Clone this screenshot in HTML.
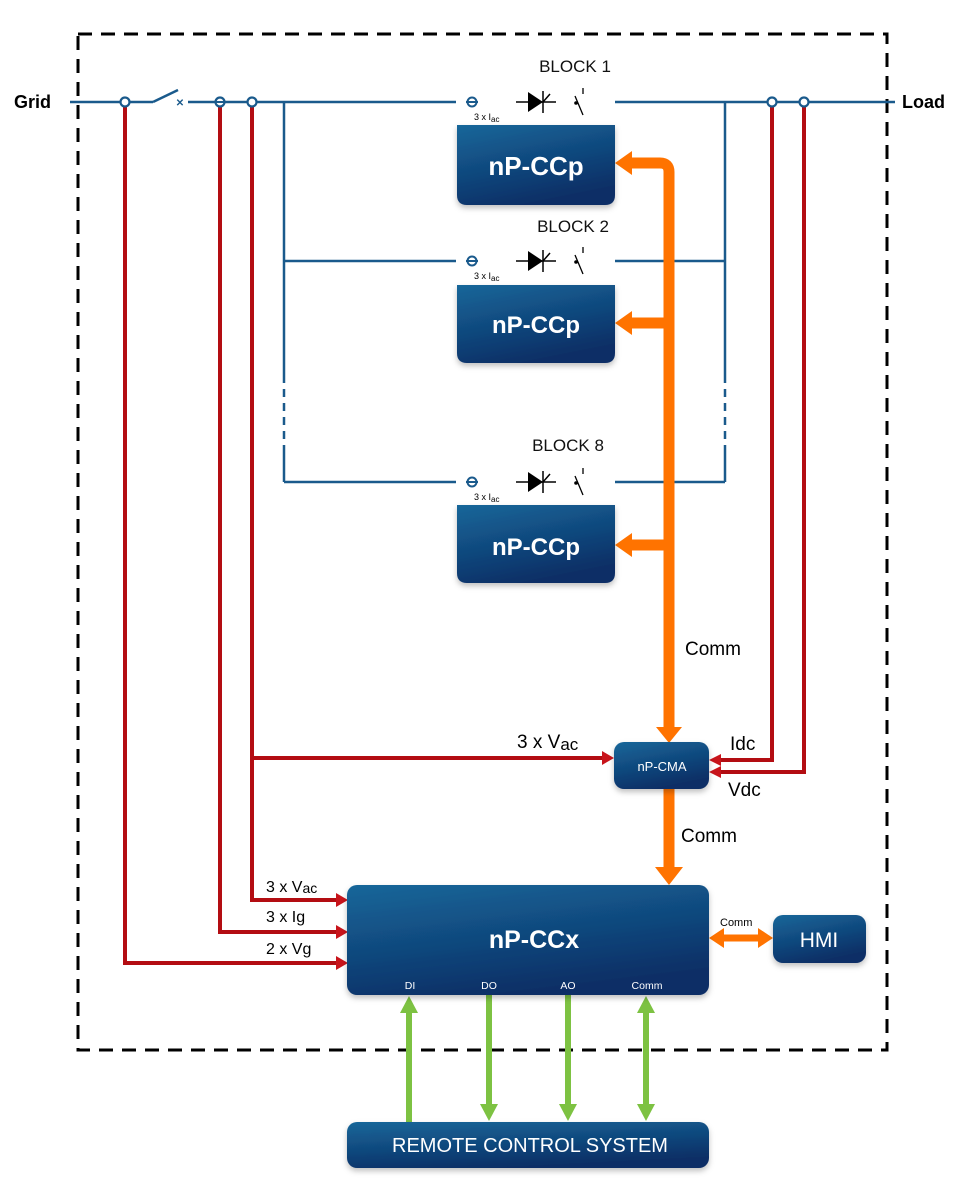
<!DOCTYPE html>
<html><head><meta charset="utf-8"><style>
html,body{margin:0;padding:0;background:#fff;}
svg{display:block;}
text{font-family:"Liberation Sans",sans-serif;}
</style></head><body>
<svg width="966" height="1200" viewBox="0 0 966 1200" xmlns="http://www.w3.org/2000/svg">
<defs>
<linearGradient id="bg" x1="0" y1="0" x2="0.4" y2="1">
<stop offset="0" stop-color="#15679a"/><stop offset="1" stop-color="#0d2f66"/>
</linearGradient>
<filter id="sh" x="-10%" y="-10%" width="120%" height="130%"><feDropShadow dx="0" dy="3" stdDeviation="3" flood-color="#000" flood-opacity="0.25"/></filter>
<g id="diode">
<line x1="-12" y1="0" x2="28" y2="0" stroke="#000" stroke-width="1.5"/>
<polygon points="0,-10 15,0 0,10" fill="#000"/>
<line x1="15" y1="-11" x2="15" y2="11" stroke="#000" stroke-width="1.5"/>
<line x1="15" y1="0" x2="22" y2="-8" stroke="#000" stroke-width="1.5"/>
<circle cx="48" cy="1" r="1.8" fill="#000"/>
<line x1="47" y1="-6" x2="55" y2="13" stroke="#000" stroke-width="1.3"/>
<line x1="55" y1="-14" x2="55" y2="-8" stroke="#000" stroke-width="1.3"/>
</g>
<g id="sensor">
<circle cx="0" cy="0" r="4.5" fill="none" stroke="#1a5a8c" stroke-width="2"/>
<line x1="-6" y1="0" x2="6" y2="0" stroke="#1a5a8c" stroke-width="2"/>
</g>
</defs>

<!-- dashed border -->
<rect x="78" y="34" width="809" height="1016" fill="none" stroke="#000" stroke-width="3" stroke-dasharray="14,9"/>

<!-- blue bus lines -->
<g stroke="#1a5a8c" stroke-width="2.5" fill="none">
<line x1="70" y1="102" x2="153" y2="102"/>
<line x1="153" y1="102" x2="178" y2="90"/>
<line x1="188" y1="102" x2="456" y2="102"/>
<line x1="615" y1="102" x2="895" y2="102"/>
<line x1="284" y1="102" x2="284" y2="375"/>
<line x1="284" y1="375" x2="284" y2="445" stroke-dasharray="8,6"/>
<line x1="284" y1="445" x2="284" y2="482"/>
<line x1="725" y1="102" x2="725" y2="375"/>
<line x1="725" y1="375" x2="725" y2="445" stroke-dasharray="8,6"/>
<line x1="725" y1="445" x2="725" y2="482"/>
<line x1="284" y1="261" x2="456" y2="261"/>
<line x1="615" y1="261" x2="725" y2="261"/>
<line x1="284" y1="482" x2="456" y2="482"/>
<line x1="615" y1="482" x2="725" y2="482"/>
</g>
<text x="180" y="106" font-size="10" fill="#1a5a8c" text-anchor="middle" font-weight="bold">✕</text>

<!-- red lines -->
<g stroke="#b30d12" stroke-width="4" fill="none">
<polyline points="125,102 125,963 338,963"/>
<polyline points="220,102 220,932 338,932"/>
<polyline points="252,102 252,900 338,900"/>
<line x1="252" y1="758" x2="604" y2="758"/>
<polyline points="772,102 772,760 718,760"/>
<polyline points="804,102 804,772 718,772"/>
</g>
<g fill="#c8141b">
<polygon points="348,963 336,956 336,970"/>
<polygon points="348,932 336,925 336,939"/>
<polygon points="348,900 336,893 336,907"/>
<polygon points="614,758 602,751 602,765"/>
<polygon points="709,760 721,754 721,766"/>
<polygon points="709,772 721,766 721,778"/>
</g>
<!-- junction circles -->
<g fill="#fff" stroke="#1a5a8c" stroke-width="2.2">
<circle cx="125" cy="102" r="4.5"/><circle cx="220" cy="102" r="4.5"/><circle cx="252" cy="102" r="4.5"/>
<circle cx="772" cy="102" r="4.5"/><circle cx="804" cy="102" r="4.5"/>
</g>
<line x1="215" y1="102" x2="225" y2="102" stroke="#1a5a8c" stroke-width="2"/>

<!-- block symbols -->
<use href="#sensor" x="472" y="102"/><use href="#diode" x="528" y="102"/>
<use href="#sensor" x="472" y="261"/><use href="#diode" x="528" y="261"/>
<use href="#sensor" x="472" y="482"/><use href="#diode" x="528" y="482"/>
<g font-size="9" fill="#000">
<text x="474" y="120">3 x I<tspan font-size="8" dy="2">ac</tspan></text>
<text x="474" y="279">3 x I<tspan font-size="8" dy="2">ac</tspan></text>
<text x="474" y="500">3 x I<tspan font-size="8" dy="2">ac</tspan></text>
</g>
<g font-size="17" fill="#111" text-anchor="middle">
<text x="575" y="72">BLOCK 1</text>
<text x="573" y="232">BLOCK 2</text>
<text x="568" y="451">BLOCK 8</text>
</g>

<!-- orange comm -->
<g stroke="#ff7300" stroke-width="11" fill="none">
<path d="M630,163 L660,163 Q669,163 669,172 L669,730"/>
<line x1="630" y1="323" x2="669" y2="323"/>
<line x1="630" y1="545" x2="669" y2="545"/>
<line x1="669" y1="789" x2="669" y2="870"/>
<line x1="722" y1="938" x2="760" y2="938" stroke-width="7"/>
</g>
<g fill="#ff7300">
<polygon points="615,163 632,151 632,175"/>
<polygon points="615,323 632,311 632,335"/>
<polygon points="615,545 632,533 632,557"/>
<polygon points="669,743 656,727 682,727"/>
<polygon points="669,885 655,867 683,867"/>
<polygon points="709,938 724,928 724,948"/>
<polygon points="773,938 758,928 758,948"/>
</g>

<!-- green -->
<g stroke="#7dc242" stroke-width="6">
<line x1="409" y1="1010" x2="409" y2="1122"/>
<line x1="489" y1="995" x2="489" y2="1108"/>
<line x1="568" y1="995" x2="568" y2="1108"/>
<line x1="646" y1="1010" x2="646" y2="1108"/>
</g>
<g fill="#7dc242">
<polygon points="409,996 400,1013 418,1013"/>
<polygon points="646,996 637,1013 655,1013"/>
<polygon points="489,1121 480,1104 498,1104"/>
<polygon points="568,1121 559,1104 577,1104"/>
<polygon points="646,1121 637,1104 655,1104"/>
</g>

<!-- boxes -->
<g fill="url(#bg)" filter="url(#sh)">
<path d="M457,125 H615 V195 Q615,205 605,205 H467 Q457,205 457,195 Z"/>
<path d="M457,285 H615 V353 Q615,363 605,363 H467 Q457,363 457,353 Z"/>
<path d="M457,505 H615 V573 Q615,583 605,583 H467 Q457,583 457,573 Z"/>
<rect x="614" y="742" width="95" height="47" rx="10"/>
<rect x="347" y="885" width="362" height="110" rx="10"/>
<rect x="773" y="915" width="93" height="48" rx="10"/>
<rect x="347" y="1122" width="362" height="46" rx="10"/>
</g>
<g fill="#fff" text-anchor="middle">
<text x="536" y="175" font-size="26" font-weight="bold">nP-CCp</text>
<text x="536" y="333" font-size="24" font-weight="bold">nP-CCp</text>
<text x="536" y="555" font-size="24" font-weight="bold">nP-CCp</text>
<text x="662" y="771" font-size="13">nP-CMA</text>
<text x="534" y="948" font-size="25" font-weight="bold">nP-CCx</text>
<text x="819" y="947" font-size="21">HMI</text>
<text x="530" y="1152" font-size="20">REMOTE CONTROL SYSTEM</text>
<g font-size="10.5"><text x="410" y="989">DI</text><text x="489" y="989">DO</text><text x="568" y="989">AO</text><text x="647" y="989">Comm</text></g>
</g>

<!-- labels -->
<g fill="#000">
<text x="14" y="108" font-size="18" font-weight="bold">Grid</text>
<text x="902" y="108" font-size="18" font-weight="bold">Load</text>
<text x="685" y="655" font-size="19">Comm</text>
<text x="681" y="842" font-size="19">Comm</text>
<text x="720" y="926" font-size="11">Comm</text>
<text x="517" y="748" font-size="19">3 x V<tspan font-size="17" dy="2">ac</tspan></text>
<text x="730" y="750" font-size="19">Idc</text>
<text x="728" y="796" font-size="19">Vdc</text>
<text x="266" y="892" font-size="16">3 x V<tspan font-size="14" dy="1">ac</tspan></text>
<text x="266" y="922" font-size="16">3 x Ig</text>
<text x="266" y="954" font-size="16">2 x Vg</text>
</g>
</svg>
</body></html>
